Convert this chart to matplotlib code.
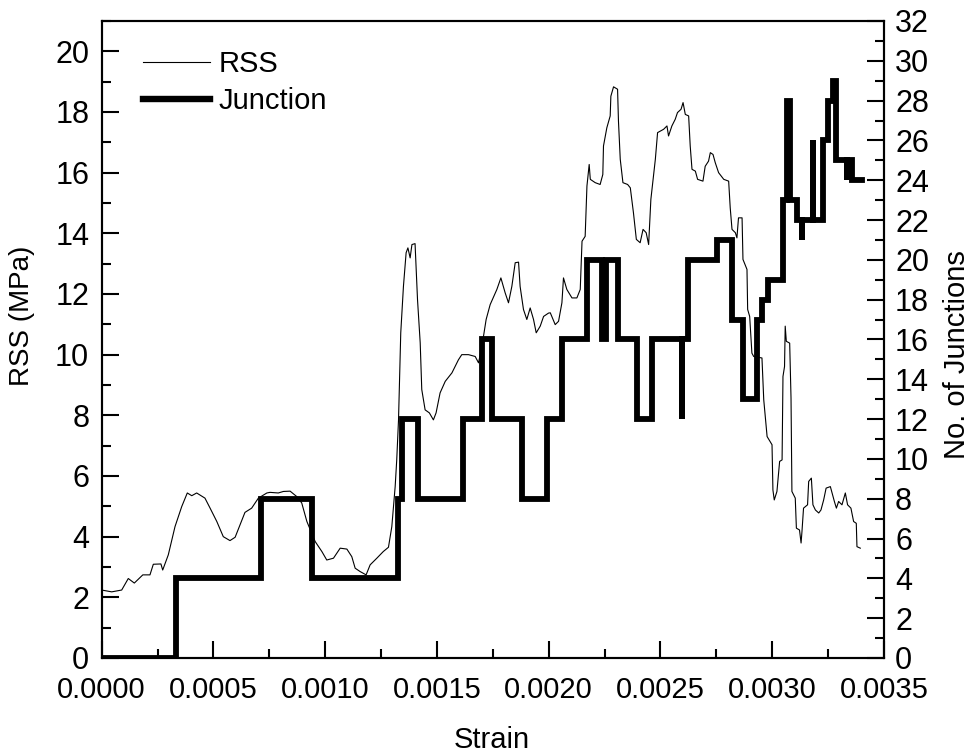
import matplotlib
matplotlib.use("Agg")
import matplotlib.pyplot as plt
from matplotlib.ticker import MultipleLocator, FormatStrFormatter
from matplotlib.lines import Line2D

plt.rcParams['font.family'] = ['Liberation Sans', 'DejaVu Sans']

# Resolved shear stress along the strain path
rss_strain = [
    0.0, 0.0000448, 0.0000895, 0.000119, 0.000146, 0.000184, 0.000216, 0.000231,
    0.000265, 0.000273, 0.000298, 0.000328, 0.000358, 0.000383, 0.000403, 0.000425,
    0.000462, 0.000485, 0.000515, 0.000544, 0.000574, 0.000597, 0.000619, 0.000641,
    0.000671, 0.000701, 0.000739, 0.000753, 0.000790, 0.000813, 0.000843, 0.000873,
    0.000895, 0.000918, 0.000955, 0.000985, 0.001007, 0.001037, 0.001067, 0.001097,
    0.001119, 0.001134, 0.001156, 0.001183, 0.001201, 0.001231, 0.001260, 0.001283,
    0.001298, 0.001313, 0.001320, 0.001328, 0.001338, 0.001350, 0.001362, 0.001370,
    0.001380, 0.001388, 0.001402, 0.001413, 0.001425, 0.001432, 0.001447, 0.001466,
    0.001484, 0.001496, 0.001514, 0.001537, 0.001567, 0.001596, 0.001611, 0.001641,
    0.001671, 0.001686, 0.001701, 0.001720, 0.001738, 0.001768, 0.001786, 0.001805,
    0.001820, 0.001835, 0.001850, 0.001865, 0.001872, 0.001887, 0.001902, 0.001917,
    0.001932, 0.001944, 0.001962, 0.001977, 0.001999, 0.002007, 0.002029, 0.002044,
    0.002059, 0.002066, 0.002081, 0.002104, 0.002126, 0.002141, 0.002149, 0.002163,
    0.002171, 0.002181, 0.002186, 0.002208, 0.002230, 0.002242, 0.002245, 0.002260,
    0.002275, 0.002278, 0.002290, 0.002308, 0.002312, 0.002320, 0.002332, 0.002353,
    0.002365, 0.002379, 0.002392, 0.002409, 0.002422, 0.002436, 0.002447, 0.002457,
    0.002477, 0.002487, 0.002514, 0.002529, 0.002536, 0.002551, 0.002566, 0.002576,
    0.002592, 0.002601, 0.002611, 0.002626, 0.002633, 0.002641, 0.002656, 0.002666,
    0.002690, 0.002700, 0.002715, 0.002723, 0.002735, 0.002745, 0.002760, 0.002783,
    0.002805, 0.002812, 0.002820, 0.002835, 0.002842, 0.002849, 0.002865, 0.002869,
    0.002887, 0.002890, 0.002899, 0.002909, 0.002917, 0.002954, 0.002962, 0.002977,
    0.002999, 0.003003, 0.003009, 0.003021, 0.003033, 0.003044, 0.003048, 0.003055,
    0.003058, 0.003063, 0.003078, 0.003084, 0.003088, 0.003103, 0.003108, 0.003122,
    0.003129, 0.003133, 0.003140, 0.003158, 0.003163, 0.003175, 0.003182, 0.003193,
    0.003208, 0.003218, 0.003230, 0.003241, 0.003260, 0.003278, 0.003287, 0.003297,
    0.003312, 0.003327, 0.003337, 0.003352, 0.003364, 0.003376, 0.003379, 0.003394,
]
rss_mpa = [
    2.24, 2.18, 2.24, 2.62, 2.47, 2.74, 2.74, 3.09,
    3.10, 2.90, 3.40, 4.33, 4.99, 5.44, 5.35, 5.44,
    5.27, 4.94, 4.50, 4.00, 3.87, 3.98, 4.39, 4.80,
    4.94, 5.27, 5.44, 5.46, 5.44, 5.49, 5.50, 5.32,
    5.11, 4.50, 3.84, 3.51, 3.23, 3.29, 3.62, 3.59,
    3.34, 2.96, 2.85, 2.74, 3.07, 3.29, 3.51, 3.65,
    4.33, 5.65, 6.53, 7.85, 10.72, 12.25, 13.36, 13.52,
    13.19, 13.63, 13.66, 11.81, 10.39, 8.85, 8.18, 8.08,
    7.85, 8.08, 8.74, 9.12, 9.40, 9.83, 10.00, 10.00,
    9.94, 9.73, 10.27, 11.16, 11.65, 12.15, 12.53, 12.04,
    11.71, 12.25, 13.03, 13.05, 12.25, 11.49, 11.16, 11.54,
    11.16, 10.72, 10.94, 11.26, 11.37, 11.38, 10.99, 11.10,
    11.71, 12.53, 12.15, 11.87, 11.87, 12.15, 13.74, 13.90,
    15.56, 16.27, 15.78, 15.67, 15.61, 15.94, 16.88, 17.48,
    17.87, 18.52, 18.83, 18.75, 17.70, 16.44, 15.67, 15.61,
    15.50, 14.68, 13.80, 13.69, 14.13, 14.02, 13.63, 15.12,
    16.44, 17.32, 17.43, 17.54, 17.21, 17.54, 17.76, 17.98,
    18.09, 18.31, 17.92, 17.87, 16.88, 16.11, 16.05, 15.78,
    15.72, 16.21, 16.38, 16.66, 16.60, 16.33, 16.00, 15.78,
    15.72, 14.84, 14.13, 14.02, 13.85, 14.51, 14.51, 13.14,
    12.81, 11.49, 11.26, 10.05, 9.94, 9.89, 8.51, 7.30,
    7.03, 5.54, 5.21, 5.49, 6.48, 6.53, 9.28, 9.61,
    10.94, 10.44, 10.38, 8.57, 5.49, 5.27, 4.28, 4.22,
    3.79, 4.17, 4.94, 5.05, 5.82, 5.93, 5.05, 4.88,
    4.78, 4.88, 5.21, 5.60, 5.65, 5.16, 4.94, 5.16,
    5.05, 5.44, 5.05, 4.94, 4.50, 4.44, 3.67, 3.62,
]

# Junction count: each entry holds until the next strain value
junction_strain = [
    0.0, 0.000333, 0.000713, 0.000940, 0.001326, 0.001343, 0.001416, 0.001617,
    0.001702, 0.001747, 0.001881, 0.001993, 0.002060, 0.002172, 0.002239, 0.002255,
    0.002311, 0.002396, 0.002463, 0.002598, 0.002598, 0.002624, 0.002754, 0.002821,
    0.002871, 0.002933, 0.002956, 0.002982, 0.003049, 0.003067, 0.003081, 0.003112,
    0.003134, 0.003134, 0.003184, 0.003184, 0.003229, 0.003251, 0.003273, 0.003287,
    0.003334, 0.003334, 0.003357, 0.003403,
]
junction_count = [
    0, 4, 8, 4, 8, 12, 8, 12,
    16, 12, 8, 12, 16, 20, 16, 20,
    16, 12, 16, 12, 16, 20, 21, 17,
    13, 17, 18, 19, 23, 28, 23, 22,
    21, 22, 26, 22, 26, 28, 29, 25,
    24, 25, 24, 24,
]

fig = plt.figure(figsize=(9.74, 7.55), dpi=100)
ax = fig.add_axes([0.1044, 0.1285, 0.8032, 0.8437])
ax2 = ax.twinx()

ax.plot(rss_strain, rss_mpa, color='black', linewidth=0.8)
ax2.plot(junction_strain, junction_count, color='black', linewidth=4.2,
         drawstyle='steps-post', solid_joinstyle='miter')

ax.set_xlim(0, 0.0035)
ax.set_ylim(0, 21)
ax2.set_ylim(0, 32)

ax.xaxis.set_major_locator(MultipleLocator(0.0005))
ax.xaxis.set_minor_locator(MultipleLocator(0.00025))
ax.xaxis.set_major_formatter(FormatStrFormatter('%.4f'))
ax.yaxis.set_major_locator(MultipleLocator(2))
ax.yaxis.set_minor_locator(MultipleLocator(1))
ax2.yaxis.set_major_locator(MultipleLocator(2))
ax2.yaxis.set_minor_locator(MultipleLocator(1))

for a in (ax, ax2):
    a.tick_params(which='major', direction='in', length=12, width=1.5, labelsize=22)
    a.tick_params(which='minor', direction='in', length=6.5, width=1.5)
    for sp in a.spines.values():
        sp.set_linewidth(1.5)
ax.tick_params(axis='x', labelsize=21, pad=13)
ax.tick_params(axis='y', pad=9)
ax2.tick_params(axis='y', pad=8)

ax.set_xlabel('Strain', fontsize=21)
ax.set_ylabel('RSS (MPa)', fontsize=20)
ax2.set_ylabel('No. of Junctions', fontsize=21)
ax.xaxis.set_label_coords(0.499, -0.106)
ax.yaxis.set_label_coords(-0.085, 0.537)
ax2.yaxis.set_label_coords(1.075, 0.476)

handles = [
    Line2D([], [], color='black', linewidth=0.8, label='RSS'),
    Line2D([], [], color='black', linewidth=4.6, label='Junction'),
]
ax2.legend(handles=handles, loc='upper left', bbox_to_anchor=(0.053, 0.954),
           frameon=False, fontsize=21, handlelength=2.3, handletextpad=0.3,
           labelspacing=0.3, borderpad=0, borderaxespad=0)

fig.savefig('out.png', dpi=100)
